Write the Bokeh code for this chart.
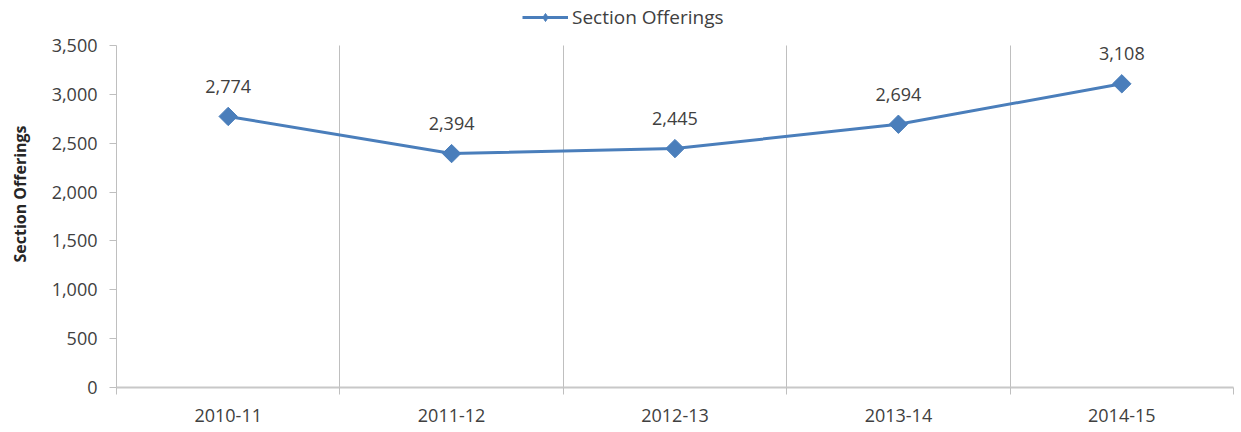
import math
from bokeh.plotting import figure
from bokeh.models import (Range1d, FixedTicker, NumeralTickFormatter, Legend,
                          LegendItem, ColumnDataSource, LabelSet, CustomJSTickFormatter)
from bokeh.core.properties import value
from bokeh.embed import file_html
from bokeh.resources import INLINE

years = ["2010-11", "2011-12", "2012-13", "2013-14", "2014-15"]
offerings = [2774, 2394, 2445, 2694, 3108]
y_ticks = [0, 500, 1000, 1500, 2000, 2500, 3000, 3500]
series_name = "Section Offerings"
y_title = "Section Offerings"

FONT = "Open Sans"
BLUE = "#4a7ebb"
GREY = "#bfbfbf"
TXT = "#404040"

Y_MAX = y_ticks[-1]
# frame extends above the axis top to host the legend: 387px frame, 342px for 0..3500
Y_TOP = Y_MAX * 387 / 342

xs = [i + 0.5 for i in range(len(years))]
src = ColumnDataSource(dict(x=xs, y=offerings, label=[f"{v:,}" for v in offerings]))

p = figure(width=1241, height=432, output_backend="svg", toolbar_location=None,
           x_range=Range1d(0, len(years)), y_range=Range1d(0, Y_TOP),
           min_border_left=116, min_border_right=8, min_border_top=0,
           min_border_bottom=45)
p.outline_line_color = None

line_r = p.line("x", "y", source=src, line_width=3, color=BLUE)
leg_pt = p.scatter("x", "y", source=src, marker="diamond", size=13, color=BLUE)
pts_r = p.scatter("x", "y", source=src, marker="square", size=13, angle=math.pi / 4,
                  color=BLUE)

labels = LabelSet(x="x", y="y", text="label", source=src, y_offset=30,
                  text_align="center", text_baseline="middle",
                  text_font=value(FONT), text_font_size="18px", text_color=TXT)
p.add_layout(labels)

# x axis
xa = p.xaxis[0]
xa.ticker = FixedTicker(ticks=xs, minor_ticks=list(range(len(years) + 1)))
xa.formatter = CustomJSTickFormatter(args=dict(names=years),
                                     code="return names[Math.floor(tick)] || '';")
xa.major_tick_line_color = None
xa.minor_tick_out = 7
xa.minor_tick_in = 0
xa.minor_tick_line_color = GREY
xa.axis_line_color = "#c8c8c8"
xa.axis_line_width = 2
xa.major_label_text_font = FONT
xa.major_label_text_font_size = "18px"
xa.major_label_text_color = TXT
xa.major_label_standoff = 14

# y axis
ya = p.yaxis[0]
ya.bounds = (0, Y_MAX)
ya.ticker = FixedTicker(ticks=y_ticks)
ya.formatter = NumeralTickFormatter(format="0,0")
ya.major_tick_out = 7
ya.major_tick_in = 0
ya.major_tick_line_color = GREY
ya.minor_tick_line_color = None
ya.axis_line_color = GREY
ya.major_label_text_font = FONT
ya.major_label_text_font_size = "18px"
ya.major_label_text_color = TXT
ya.major_label_standoff = 12
ya.axis_label = y_title
ya.axis_label_text_font = FONT
ya.axis_label_text_font_size = "16px"
ya.axis_label_text_font_style = "bold"
ya.axis_label_text_color = "#262626"
ya.axis_label_standoff = 18

# grids
p.xgrid.ticker = FixedTicker(ticks=list(range(1, len(years) + 1)))
p.xgrid.grid_line_color = GREY
p.xgrid.cross_bounds = (0, Y_MAX)
p.ygrid.grid_line_color = None

legend = Legend(items=[LegendItem(label=series_name, renderers=[line_r, leg_pt])],
                orientation="horizontal", location=(406, 357),
                border_line_color=None, background_fill_alpha=0,
                padding=0, margin=0, glyph_width=46, glyph_height=20,
                label_text_font=FONT, label_text_font_size="19px",
                label_text_color=TXT, label_standoff=4)
p.add_layout(legend)

open("out.html", "w").write(file_html(p, INLINE))
